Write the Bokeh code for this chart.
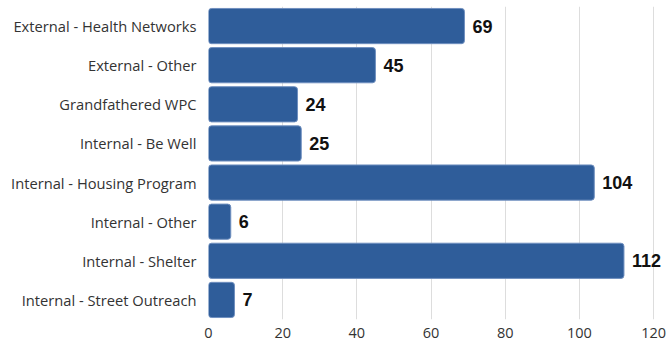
from bokeh.plotting import figure
from bokeh.models import ColumnDataSource, Range1d, FixedTicker, LabelSet
from bokeh.core.properties import value
from bokeh.embed import file_html
from bokeh.resources import INLINE

categories = ["External - Health Networks", "External - Other", "Grandfathered WPC",
              "Internal - Be Well", "Internal - Housing Program", "Internal - Other",
              "Internal - Shelter", "Internal - Street Outreach"]
values = [69, 45, 24, 25, 104, 6, 112, 7]
x_ticks = [0, 20, 40, 60, 80, 100, 120]

src = ColumnDataSource(dict(cat=categories, val=values, lab=[str(v) for v in values]))

p = figure(width=667, height=340, y_range=list(reversed(categories)),
           x_range=Range1d(0, 123.2), output_backend="svg", toolbar_location=None,
           min_border_left=208, min_border_right=2, min_border_top=6, min_border_bottom=20)

p.hbar(y="cat", right="val", left=0, height=0.9, source=src,
       fill_color="#2f5d9a", line_color="#6f8fbf", line_width=1, border_radius=3)

labels = LabelSet(x="val", y="cat", text="lab", source=src, x_offset=8,
                  text_baseline="middle", text_font=value("Liberation Sans"),
                  text_font_style="bold", text_font_size="18px", text_color="#111111")
p.add_layout(labels)

p.xaxis.ticker = FixedTicker(ticks=x_ticks)
p.xaxis.major_label_text_font = "Open Sans"
p.xaxis.major_label_text_font_size = "14.5px"
p.xaxis.major_label_text_color = "#333333"
p.xaxis.major_tick_line_color = None
p.xaxis.minor_tick_line_color = None
p.xaxis.axis_line_color = None
p.xaxis.major_label_standoff = 2

p.yaxis.major_label_text_font = "Open Sans"
p.yaxis.major_label_text_font_size = "14.7px"
p.yaxis.major_label_text_color = "#333333"
p.yaxis.major_tick_line_color = None
p.yaxis.minor_tick_line_color = None
p.yaxis.axis_line_color = None
p.yaxis.major_label_standoff = 6

p.xgrid.ticker = FixedTicker(ticks=x_ticks)
p.xgrid.grid_line_color = "#dddddd"
p.ygrid.grid_line_color = None
p.outline_line_color = None

open("out.html", "w").write(file_html(p, INLINE))
